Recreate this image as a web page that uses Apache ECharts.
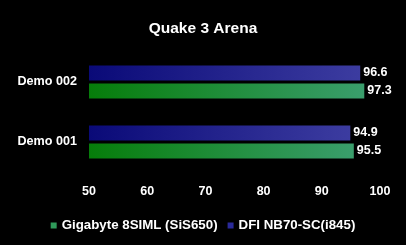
<!DOCTYPE html>
<html><head><meta charset="utf-8">
<script src="https://cdn.jsdelivr.net/npm/echarts@6/dist/echarts.min.js"></script>
<style>html,body{margin:0;padding:0;background:#000;}#c{width:406px;height:245px;}</style>
</head><body><div id="c"></div>
<script>
const categories = ['Demo 001', 'Demo 002'];
const gigabyte = [95.5, 97.3];
const dfi = [94.9, 96.6];
const seriesNames = ['Gigabyte 8SIML (SiS650)', 'DFI NB70-SC(i845)'];

const font = 'Liberation Sans, Arial, sans-serif';
const grad = (a, b) => new echarts.graphic.LinearGradient(0, 0, 1, 0, [{offset: 0, color: a}, {offset: 1, color: b}]);
const chart = echarts.init(document.getElementById('c'));
const lbl = {show: true, position: 'right', distance: 3, color: '#fff', fontWeight: 'bold', fontSize: 12.5, fontFamily: font, formatter: p => p.value.toFixed(1)};
chart.setOption({
  backgroundColor: '#000',
  animation: false,
  title: {text: 'Quake 3 Arena', left: 'center', top: 16, textStyle: {color: '#fff', fontSize: 15.5, fontWeight: 'bold', fontFamily: font}},
  legend: {bottom: 8, left: 'center', itemWidth: 6, itemHeight: 6, itemGap: 10, icon: 'rect',
    textStyle: {color: '#fff', fontSize: 13.3, fontWeight: 'bold', fontFamily: font},
    data: [{name: seriesNames[0], itemStyle: {color: '#2f9a5a'}}, {name: seriesNames[1], itemStyle: {color: '#2a2a9a'}}]},
  grid: {left: 89, right: 26, top: 52, bottom: 73},
  xAxis: {type: 'value', min: 50, max: 100, interval: 10,
    axisLine: {show: false}, axisTick: {show: false}, splitLine: {show: false},
    axisLabel: {color: '#fff', fontWeight: 'bold', fontSize: 12.5, fontFamily: font, margin: 13}},
  yAxis: {type: 'category', data: categories,
    axisLine: {show: false}, axisTick: {show: false},
    axisLabel: {color: '#fff', fontWeight: 'bold', fontSize: 12.6, fontFamily: font, margin: 12}},
  series: [
    {name: seriesNames[1], type: 'bar', data: dfi, barWidth: 15, barGap: '20%',
      itemStyle: {color: grad('#0a0a78', '#3c3ca0')}, label: lbl},
    {name: seriesNames[0], type: 'bar', data: gigabyte, barWidth: 15,
      itemStyle: {color: grad('#067d0a', '#3a9e6c')}, label: lbl}
  ]
});
</script></body></html>
